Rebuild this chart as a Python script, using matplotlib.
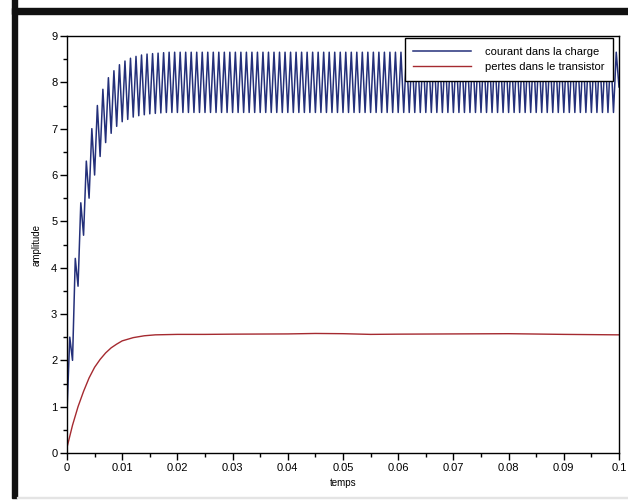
import matplotlib.pyplot as plt
from matplotlib.patches import Rectangle
from matplotlib.ticker import MultipleLocator, FuncFormatter

plt.rcParams['font.family'] = ['Liberation Sans', 'DejaVu Sans']

# chopper period (s) and per-cycle trough / peak of the load current
period = 0.001
troughs = [0.9, 2.0, 3.6, 4.7, 5.5, 6.0, 6.4, 6.7, 6.9, 7.05, 7.15, 7.2, 7.25,
           7.28, 7.3, 7.32, 7.33, 7.34] + [7.35] * 82
peaks = [2.5, 4.2, 5.4, 6.3, 7.0, 7.5, 7.85, 8.1, 8.25, 8.38, 8.46, 8.52, 8.56,
         8.59, 8.61, 8.62, 8.63, 8.64] + [8.65] * 82

# transistor losses
loss_t = [0, 0.001, 0.002, 0.003, 0.004, 0.005, 0.006, 0.007, 0.008, 0.009,
          0.010, 0.012, 0.014, 0.016, 0.020, 0.025, 0.030, 0.040, 0.045, 0.050,
          0.055, 0.060, 0.070, 0.080, 0.090, 0.100]
loss_v = [0.12, 0.6, 1.0, 1.33, 1.62, 1.85, 2.02, 2.16, 2.27, 2.35,
          2.42, 2.49, 2.53, 2.55, 2.56, 2.56, 2.565, 2.57, 2.58, 2.575,
          2.56, 2.565, 2.57, 2.575, 2.56, 2.55]

cur_t = []
cur_v = []
for k in range(len(peaks)):
    cur_t += [k * period, k * period + period / 2]
    cur_v += [troughs[k], peaks[k]]
cur_t.append(len(peaks) * period)
cur_v.append(7.9)

fig = plt.figure(figsize=(6.28, 5), dpi=100)
# black window frame (top and left)
fig.patches.append(Rectangle((12 / 628, 1 - 14 / 500), 1, 6 / 500, transform=fig.transFigure,
                             color='#111111', zorder=0))
fig.patches.append(Rectangle((12 / 628, 2 / 500), 5 / 628, 1, transform=fig.transFigure,
                             color='#111111', zorder=0))
fig.patches.append(Rectangle((17 / 628, 2 / 500), 1, 1 / 500, transform=fig.transFigure,
                             color='#e4e4e4', zorder=0))

ax = fig.add_axes([67 / 628, 47 / 500, 552 / 628, 417 / 500])
ax.plot(cur_t, cur_v, color='#24307a', lw=1.1, label='courant dans la charge')
ax.plot(loss_t, loss_v, color='#a52a30', lw=1, label='pertes dans le transistor')

ax.set_xlim(0, 0.1)
ax.set_ylim(0, 9)
ax.xaxis.set_major_locator(MultipleLocator(0.01))
ax.xaxis.set_minor_locator(MultipleLocator(0.005))
ax.yaxis.set_major_locator(MultipleLocator(1))
ax.yaxis.set_minor_locator(MultipleLocator(0.5))
ax.xaxis.set_major_formatter(FuncFormatter(lambda v, p: '0' if abs(v) < 1e-9 else ('%.2f' % v).rstrip('0')))
ax.tick_params(which='major', direction='out', length=5, width=1, labelsize=8, pad=2)
ax.tick_params(which='minor', direction='out', length=3, width=1)
for s in ax.spines.values():
    s.set_linewidth(1)

ax.set_xlabel('temps', fontsize=7, labelpad=4)
ax.set_ylabel('amplitude', fontsize=7, labelpad=7)

leg = ax.legend(loc='upper right', bbox_to_anchor=(0.989, 0.995), borderaxespad=0,
                fontsize=8, handlelength=5.2, fancybox=False, framealpha=1,
                edgecolor='black', borderpad=0.8, labelspacing=0.45, handletextpad=1.2)
leg.get_frame().set_linewidth(1)

fig.savefig('out.png', dpi=100)
